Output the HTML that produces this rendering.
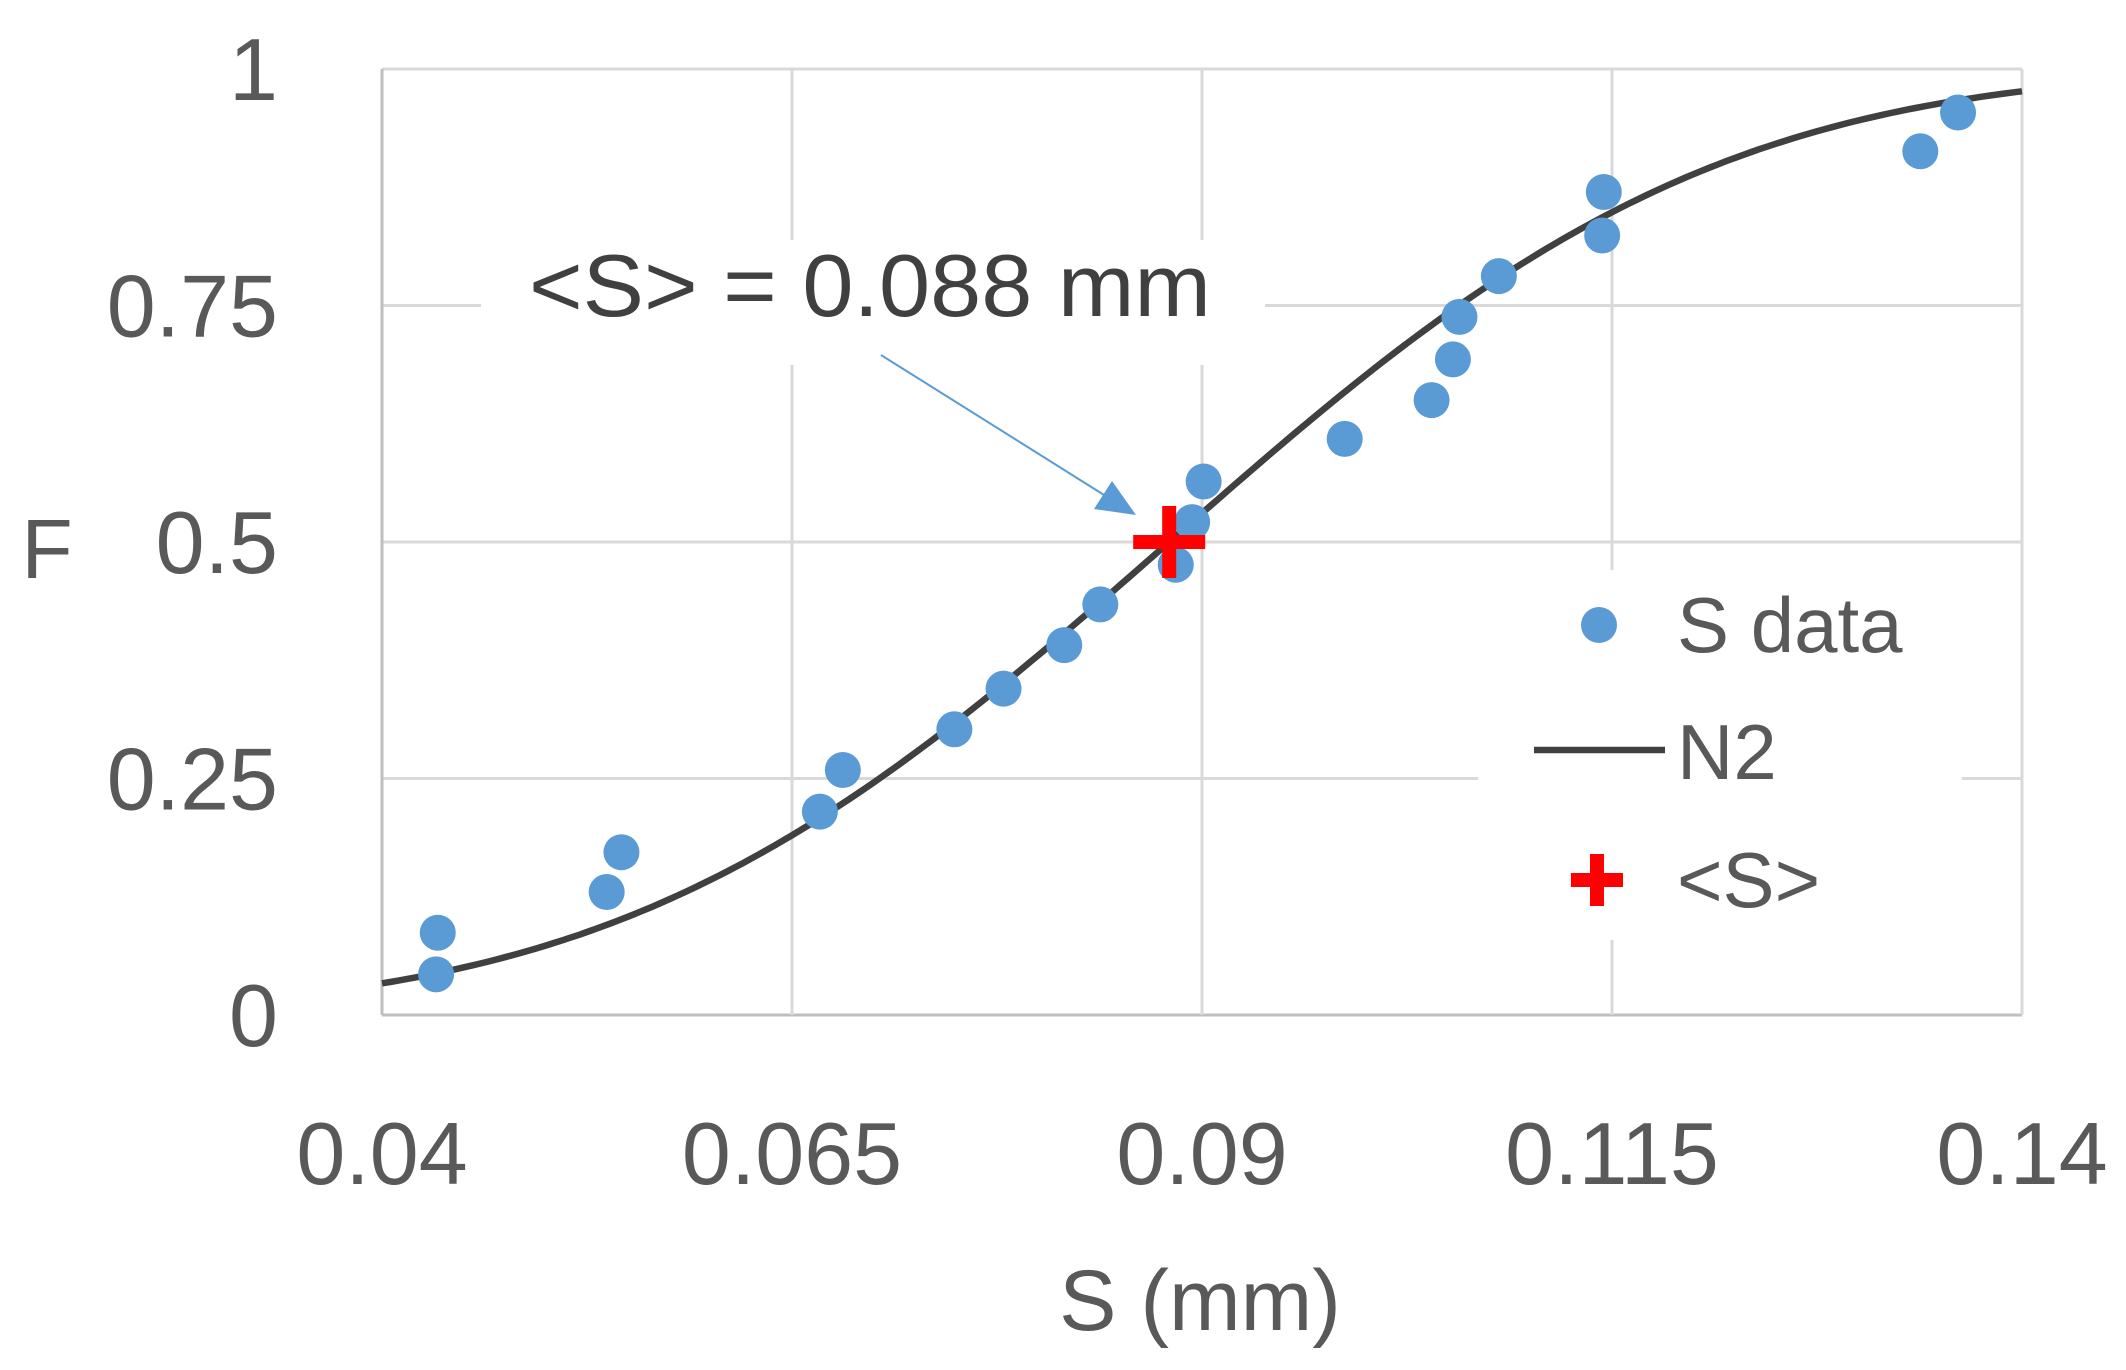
<!DOCTYPE html>
<html><head><meta charset="utf-8"><style>
html,body{margin:0;padding:0;background:#fff;}
svg{display:block;font-family:"Liberation Sans",sans-serif;}
</style></head><body>
<svg id="chart" width="2126" height="1370" viewBox="0 0 2126 1370">
<g id="grid"></g>
<g id="ticks"></g>
<path id="curve" fill="none" stroke="#404040" stroke-width="6.5"/>
<g id="pts"></g>
<g id="mean"></g>
<rect x="481" y="240" width="784" height="125" fill="#fff"/>
<text x="529" y="316" font-size="88" fill="#404040" textLength="682" lengthAdjust="spacingAndGlyphs">&lt;S&gt; = 0.088 mm</text>
<line x1="881" y1="355" x2="1112" y2="500" stroke="#5b9bd5" stroke-width="2"/>
<polygon points="1136,515 1094,509 1112,481" fill="#5b9bd5"/>
<g>
<rect x="1478" y="570" width="484" height="370" fill="#fff"/>
<circle cx="1599" cy="625" r="18" fill="#5b9bd5"/>
<text x="1677" y="652" font-size="78" fill="#595959">S data</text>
<line x1="1534" y1="750" x2="1665" y2="750" stroke="#404040" stroke-width="6.5"/>
<text x="1677" y="779" font-size="78" fill="#595959">N2</text>
<rect x="1571" y="873" width="52" height="14" fill="#ff0000"/>
<rect x="1590" y="854" width="14" height="52" fill="#ff0000"/>
<text x="1677" y="907" font-size="78" fill="#595959">&lt;S&gt;</text>
</g>
<text x="1200" y="1330" font-size="86" fill="#595959" text-anchor="middle">S (mm)</text>
<text x="47" y="578" font-size="84" fill="#595959" text-anchor="middle">F</text>
</svg>
<script>
const xTicks=[0.04,0.065,0.09,0.115,0.14];
const xTickLabels=["0.04","0.065","0.09","0.115","0.14"];
const yTicks=[0,0.25,0.5,0.75,1];
const yTickLabels=["0","0.25","0.5","0.75","1"];
const sValues=[0.0433,0.0434,0.0537,0.0546,0.0667,0.0681,0.0749,0.0779,0.0816,0.0838,0.0884,0.0894,0.0901,0.0987,0.1040,0.1053,0.1057,0.1081,0.1144,0.1145,0.1338,0.1361];
const fValues=[0.043,0.087,0.130,0.172,0.215,0.259,0.302,0.345,0.391,0.434,0.476,0.521,0.564,0.609,0.650,0.693,0.738,0.781,0.824,0.870,0.913,0.954];
const meanS=[0.088];
const meanF=[0.5];
const fitSigma=[0.0262];

const L=382,R=2022,T=69,B=1015;
const X=v=>L+(v-0.04)/(0.14-0.04)*(R-L);
const Y=v=>B-v*(B-T);
const NS="http://www.w3.org/2000/svg";
function mk(tag,parent,attrs){const e=document.createElementNS(NS,tag);for(const k in attrs)e.setAttribute(k,attrs[k]);parent.appendChild(e);return e;}
const grid=document.getElementById('grid'),ticks=document.getElementById('ticks');
yTicks.forEach((v,i)=>{
  const l=mk('line',grid,{x1:L,x2:R,y1:Y(v),y2:Y(v),stroke:v===0?'#bfbfbf':'#d9d9d9','stroke-width':3});
  
  
  const t=mk('text',ticks,{x:278,y:Y(v)+31,'font-size':88,fill:'#595959','text-anchor':'end'});
  t.textContent=yTickLabels[i];
  
  
});
xTicks.forEach((v,i)=>{
  const l=mk('line',grid,{x1:X(v),x2:X(v),y1:T,y2:B,stroke:v===0.04?'#bfbfbf':'#d9d9d9','stroke-width':3});
  
  
  const t=mk('text',ticks,{x:X(v),y:1184,'font-size':88,fill:'#595959','text-anchor':'middle'});
  t.textContent=xTickLabels[i];
  
  
});
function erf(x){const s=Math.sign(x);x=Math.abs(x);const t=1/(1+0.3275911*x);
 const y=1-(((((1.061405429*t-1.453152027)*t)+1.421413741)*t-0.284496736)*t+0.254829592)*t*Math.exp(-x*x);return s*y;}
let d='';
for(let i=0;i<=200;i++){const s=0.04+i*0.1/200;const f=0.5*(1+erf((s-meanS[0])/(fitSigma[0]*Math.SQRT2)));d+=(i?'L':'M')+X(s).toFixed(1)+','+Y(f).toFixed(1);}
document.getElementById('curve').setAttribute('d',d);
const pts=document.getElementById('pts');
sValues.forEach((s,i)=>{
  const c=mk('circle',pts,{cx:X(s),cy:Y(fValues[i]),r:18,fill:'#5b9bd5'});
  
  
});
const mean=document.getElementById('mean');
const mx=X(meanS[0]),my=Y(meanF[0]);
const h=mk('rect',mean,{x:mx-36,y:my-7,width:72,height:14,fill:'#ff0000'});


const v=mk('rect',mean,{x:mx-7,y:my-36,width:14,height:72,fill:'#ff0000'});


</script>
</body></html>
